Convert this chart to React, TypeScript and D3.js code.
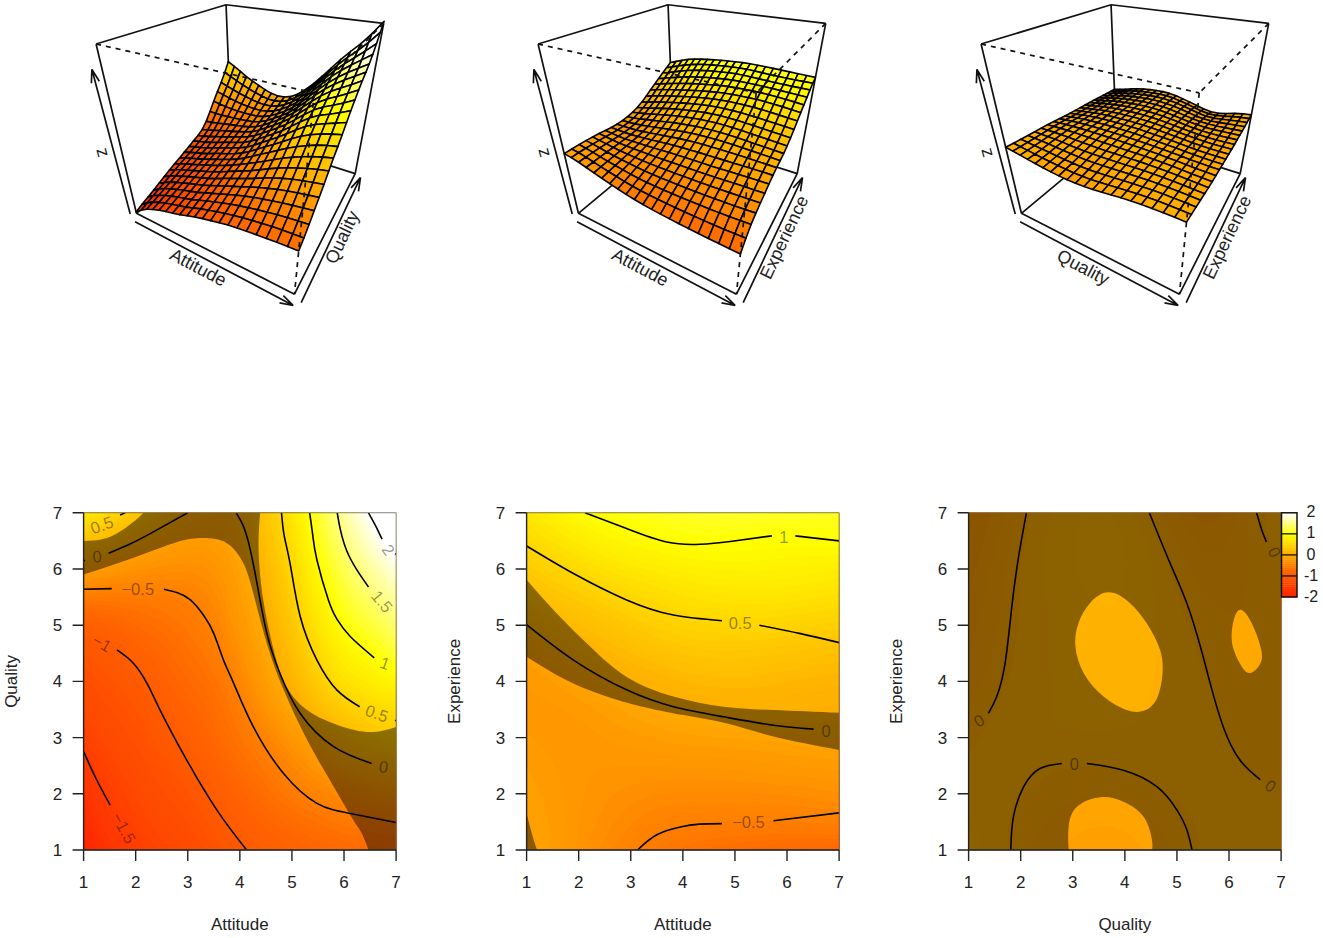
import React, { useMemo } from "react";
import * as d3 from "d3";

type Pt = number[];
// ---------- value grids: rows run from y=7 down to y=1, columns from x=1 to x=7, both in steps of 0.5
const attitudeQualityZ = [
  [0.75, 0.55, 0.32, 0.17, 0.0, -0.06, 0.02, 0.3, 0.7, 1.18, 1.65, 2.0, 2.55],
  [0.25, 0.12, 0.0, -0.1, -0.18, -0.17, -0.05, 0.25, 0.6, 1.07, 1.5, 1.8, 2.2],
  [-0.1, -0.2, -0.29, -0.33, -0.34, -0.3, -0.1, 0.13, 0.52, 0.95, 1.33, 1.62, 1.85],
  [-0.55, -0.57, -0.55, -0.52, -0.5, -0.4, -0.15, 0.07, 0.42, 0.82, 1.18, 1.42, 1.65],
  [-0.97, -0.87, -0.75, -0.68, -0.58, -0.47, -0.22, 0.02, 0.32, 0.7, 1.03, 1.2, 1.45],
  [-1.09, -1.03, -0.9, -0.79, -0.66, -0.56, -0.3, -0.06, 0.2, 0.56, 0.86, 0.98, 1.2],
  [-1.21, -1.11, -1.03, -0.88, -0.75, -0.65, -0.42, -0.15, 0.09, 0.41, 0.67, 0.78, 0.92],
  [-1.33, -1.2, -1.11, -0.97, -0.84, -0.72, -0.54, -0.26, -0.05, 0.2, 0.38, 0.55, 0.6],
  [-1.44, -1.29, -1.18, -1.05, -0.93, -0.78, -0.6, -0.45, -0.25, -0.04, 0.12, 0.27, 0.38],
  [-1.57, -1.38, -1.26, -1.13, -1.02, -0.88, -0.7, -0.58, -0.4, -0.23, -0.1, -0.02, 0.04],
  [-1.7, -1.47, -1.34, -1.21, -1.12, -0.97, -0.83, -0.68, -0.54, -0.45, -0.36, -0.28, -0.2],
  [-1.82, -1.56, -1.42, -1.29, -1.21, -1.06, -0.94, -0.82, -0.73, -0.65, -0.57, -0.53, -0.5],
  [-1.95, -1.66, -1.5, -1.37, -1.3, -1.14, -1.03, -0.94, -0.85, -0.8, -0.76, -0.72, -0.7],
];
const attitudeExperienceZ = [
  [0.72, 0.85, 0.97, 1.03, 1.08, 1.12, 1.15, 1.17, 1.17, 1.16, 1.15, 1.14, 1.13],
  [0.55, 0.65, 0.78, 0.88, 0.94, 0.98, 1.01, 1.03, 1.0, 0.98, 0.97, 0.98, 1.0],
  [0.37, 0.47, 0.56, 0.65, 0.72, 0.77, 0.82, 0.85, 0.86, 0.87, 0.85, 0.83, 0.8],
  [0.2, 0.3, 0.37, 0.45, 0.52, 0.58, 0.64, 0.68, 0.7, 0.71, 0.7, 0.67, 0.63],
  [0.0, 0.1, 0.2, 0.28, 0.35, 0.42, 0.47, 0.5, 0.5, 0.5, 0.47, 0.44, 0.42],
  [-0.13, -0.05, 0.03, 0.13, 0.2, 0.26, 0.3, 0.33, 0.33, 0.31, 0.29, 0.27, 0.24],
  [-0.2, -0.17, -0.08, -0.03, 0.05, 0.1, 0.15, 0.17, 0.18, 0.17, 0.14, 0.12, 0.1],
  [-0.22, -0.22, -0.2, -0.14, -0.09, -0.03, 0.02, 0.05, 0.06, 0.07, 0.06, 0.05, 0.04],
  [-0.2, -0.22, -0.23, -0.2, -0.17, -0.14, -0.12, -0.11, -0.1, -0.09, -0.07, -0.05, -0.04],
  [-0.15, -0.2, -0.24, -0.25, -0.25, -0.25, -0.24, -0.24, -0.23, -0.22, -0.2, -0.19, -0.18],
  [-0.12, -0.17, -0.24, -0.29, -0.32, -0.35, -0.36, -0.36, -0.36, -0.35, -0.34, -0.33, -0.3],
  [-0.1, -0.15, -0.25, -0.32, -0.39, -0.46, -0.47, -0.49, -0.49, -0.49, -0.49, -0.47, -0.44],
  [-0.1, -0.15, -0.27, -0.37, -0.47, -0.56, -0.62, -0.67, -0.7, -0.73, -0.75, -0.77, -0.78],
];
const qualityExperienceZ = [
  [-0.22, -0.14, -0.03, 0.05, 0.09, 0.12, 0.08, -0.01, -0.1, -0.2, -0.14, -0.01, 0.03],
  [-0.2, -0.11, -0.01, 0.06, 0.1, 0.13, 0.11, 0.05, -0.04, -0.13, -0.1, -0.02, 0.02],
  [-0.17, -0.09, 0.01, 0.06, 0.1, 0.12, 0.11, 0.06, -0.02, -0.08, -0.08, -0.04, -0.01],
  [-0.14, -0.07, 0.01, 0.05, 0.09, 0.11, 0.1, 0.06, 0.0, -0.05, -0.06, -0.04, -0.02],
  [-0.12, -0.06, 0.01, 0.05, 0.08, 0.09, 0.09, 0.06, 0.02, -0.02, -0.05, -0.05, -0.03],
  [-0.1, -0.05, 0.02, 0.05, 0.07, 0.08, 0.08, 0.06, 0.03, -0.01, -0.04, -0.05, -0.04],
  [-0.08, -0.03, 0.03, 0.05, 0.06, 0.07, 0.07, 0.05, 0.03, 0.01, -0.03, -0.04, -0.04],
  [-0.05, 0.01, 0.03, 0.05, 0.06, 0.06, 0.06, 0.05, 0.03, 0.02, -0.01, -0.03, -0.03],
  [-0.01, 0.02, 0.04, 0.05, 0.05, 0.05, 0.05, 0.04, 0.04, 0.02, 0.0, -0.03, -0.04],
  [0.01, 0.02, 0.03, 0.01, 0.0, 0.0, 0.01, 0.02, 0.03, 0.03, 0.02, -0.01, -0.03],
  [0.03, 0.02, 0.005, -0.02, -0.04, -0.05, -0.03, -0.01, 0.01, 0.02, 0.03, 0.02, 0.0],
  [0.05, 0.02, -0.02, -0.05, -0.08, -0.1, -0.09, -0.06, -0.02, 0.01, 0.03, 0.03, 0.02],
  [0.08, 0.03, -0.03, -0.08, -0.12, -0.14, -0.13, -0.09, -0.04, 0.01, 0.03, 0.04, 0.04],
];

// ---------- contour lines (gaps are where labels sit)
const attitudeQualityLines: Pt[][] = [
  [[6.47, 7], [6.6, 6.78], [6.73, 6.53]],
  [[6.98, 6.27], [7, 6.26]],
  [[5.87, 7], [5.93, 6.7], [6.05, 6.33], [6.25, 5.98], [6.47, 5.68]],
  [[5.34, 7], [5.4, 6.6], [5.48, 6.16], [5.7, 5.45], [5.87, 5.1], [6.12, 4.8], [6.58, 4.42]],
  [[4.8, 7], [4.85, 6.6], [4.97, 6.07], [5.16, 5.15], [5.48, 4.38], [5.86, 3.85], [6.3, 3.55]],
  [[6.98, 3.31], [7, 3.3]],
  [[3.93, 7], [4.05, 6.8], [4.17, 6.46], [4.33, 5.74], [4.52, 4.85], [4.77, 4.14], [5.16, 3.43], [5.8, 2.84], [6.53, 2.54]],
  [[1.48, 6.28], [1.9, 6.45], [2.28, 6.63], [3.0, 7]],
  [[1, 6.15], [1.03, 6.15]],
  [[1.7, 6.96], [1.8, 7]],
  [[1, 5.64], [1.54, 5.65]],
  [[2.54, 5.64], [2.79, 5.58], [3.05, 5.45], [3.3, 5.18], [3.5, 4.85], [3.69, 4.37], [3.88, 3.97], [4.26, 3.19], [4.84, 2.36], [5.48, 1.83], [6.12, 1.65], [7, 1.49]],
  [[1.64, 4.56], [1.96, 4.32], [2.22, 3.96], [2.41, 3.6], [2.6, 3.25], [2.98, 2.6], [3.56, 1.71], [4.13, 1]],
  [[1, 2.75], [1.25, 2.25], [1.51, 1.8]],
];
const attitudeExperienceLines: Pt[][] = [
  [[2.12, 7], [2.92, 6.72], [3.69, 6.48], [4.33, 6.44], [4.91, 6.49], [5.71, 6.59]],
  [[6.16, 6.59], [7, 6.5]],
  [[1, 6.41], [1.9, 5.92], [2.92, 5.45], [3.82, 5.18], [4.75, 5.08]],
  [[5.47, 5.0], [6.26, 4.85], [7, 4.69]],
  [[1, 5.01], [1.9, 4.38], [2.92, 3.85], [3.82, 3.55], [4.78, 3.37], [5.74, 3.22], [6.51, 3.15]],
  [[3.13, 1], [3.5, 1.27], [3.95, 1.41], [4.32, 1.46], [4.75, 1.47]],
  [[5.74, 1.52], [7, 1.66]],
];
const qualityExperienceLines: Pt[][] = [
  [[2.11, 7], [1.96, 6.22], [1.83, 5.33], [1.7, 4.32], [1.54, 3.73], [1.38, 3.43]],
  [[4.47, 7], [4.87, 6.1], [5.19, 5.39], [5.45, 4.62], [5.64, 3.96], [5.89, 3.19], [6.21, 2.6], [6.6, 2.25]],
  [[1.81, 1], [1.86, 1.59], [2.06, 2.13], [2.37, 2.45], [2.79, 2.54]],
  [[3.27, 2.54], [3.97, 2.42], [4.61, 2.13], [5.0, 1.71], [5.19, 1.36], [5.29, 1]],
  [[6.53, 7], [6.63, 6.69], [6.72, 6.48]],
];

// ---------- contour labels: text, x, y, angle
const attitudeQualityLabels: [string, number, number, number][] = [
  ["0.5", 1.35, 6.78, -20], ["0", 1.26, 6.22, -5], ["\u22120.5", 2.04, 5.64, 0], ["\u22121", 1.35, 4.68, 30],
  ["\u22121.5", 1.77, 1.39, 62], ["2", 6.85, 6.34, 55], ["1.5", 6.73, 5.42, 50], ["1", 6.79, 4.32, 20],
  ["0.5", 6.63, 3.43, 20], ["0", 6.76, 2.48, 8],
];
const attitudeExperienceLabels: [string, number, number, number][] = [
  ["1", 5.94, 6.57, 0], ["0.5", 5.1, 5.03, 0], ["0", 6.75, 3.12, 0], ["\u22120.5", 5.26, 1.5, 0],
];
const qualityExperienceLabels: [string, number, number, number][] = [
  ["0", 1.2, 3.3, -30], ["0", 3.03, 2.53, 0], ["0", 6.87, 6.3, 65], ["0", 6.8, 2.14, 35],
];

// ---------- regions shaded dark: rings made of edges
const attitudeQualityShade: Pt[][][] = [[
  [[1, 6.5], [1.5, 6.57], [1.96, 6.84], [2.15, 7]],
  [[2.15, 7], [4.39, 7]],
  [[4.39, 7], [4.36, 6.34], [4.45, 5.45], [4.65, 4.56], [4.9, 3.9], [5.29, 3.49], [5.8, 3.25], [6.44, 3.1], [7, 3.19]],
  [[7, 3.19], [7, 1]],
  [[7, 1], [6.47, 1]],
  [[6.47, 1], [6.34, 1.3], [6.18, 1.53], [5.8, 2.13], [5.29, 2.96], [4.84, 3.85], [4.52, 4.67], [4.26, 5.56], [4.07, 6.1], [3.75, 6.46], [3.3, 6.55], [2.8, 6.48], [1.96, 6.2], [1, 5.9]],
  [[1, 5.9], [1, 6.5]],
]];
const attitudeExperienceShade: Pt[][][] = [
  [
    [[1, 5.81], [1.58, 5.21], [2.22, 4.62], [2.92, 4.08], [3.82, 3.73], [4.78, 3.55], [5.74, 3.49], [7, 3.44]],
    [[7, 3.44], [7, 2.78]],
    [[7, 2.78], [5.74, 3.02], [4.85, 3.25], [4.01, 3.4], [3.18, 3.56], [2.54, 3.73], [1.77, 4.02], [1, 4.44]],
    [[1, 4.44], [1, 5.81]],
  ],
  [[[1, 1.65], [1.1, 1.3], [1.2, 1]], [[1.2, 1], [1, 1]], [[1, 1], [1, 1.65]]],
];
const qualityExperienceShade: Pt[][][] = [
  [[[1, 1], [7, 1]], [[7, 1], [7, 7]], [[7, 7], [1, 7]], [[1, 7], [1, 1]]],
  [[[3.69, 5.6], [4.1, 5.39], [4.42, 5.03], [4.68, 4.56], [4.72, 4.14], [4.61, 3.67], [4.36, 3.48], [4.04, 3.49], [3.59, 3.73], [3.21, 4.14], [3.05, 4.62], [3.11, 5.03], [3.33, 5.39], [3.69, 5.6]]],
  [[[6.25, 5.27], [6.44, 5.03], [6.62, 4.56], [6.6, 4.32], [6.41, 4.14], [6.25, 4.26], [6.09, 4.56], [6.05, 4.85], [6.12, 5.18], [6.25, 5.27]]],
  [[[2.92, 1], [2.92, 1.41], [3.08, 1.77], [3.53, 1.94], [3.97, 1.86], [4.36, 1.59], [4.52, 1.18], [4.52, 1]], [[4.52, 1], [2.92, 1]]],
];

const axisTicks = [1, 2, 3, 4, 5, 6, 7];
const legendTicks = [2, 1, 0, -1, -2];
const zLimits = [-2, 2.5];
const legendLevels = d3.range(0, 40).map((i) => -2 + i * 0.1);
const FONT = "'Liberation Sans', Arial, sans-serif";

// ---------- heat palette
const greenRamp = d3.scaleLinear().domain([-2, -0.75, 0, 1]).range([0.13, 0.41, 0.67, 1]).clamp(true);
function heat(z: number) {
  const g = greenRamp(z);
  const b = Math.max(0, Math.min(1, z - 1));
  return d3.rgb(255, Math.round(g * 255), Math.round(b * 255)).formatHex();
}

// ---------- smooth lookup in a value grid (uniform cubic B-spline)
function bs(a: number, b: number, c: number, d: number, t: number) {
  const t2 = t * t, t3 = t2 * t;
  return ((1 - 3 * t + 3 * t2 - t3) * a + (4 - 6 * t2 + 3 * t3) * b + (1 + 3 * t + 3 * t2 - 3 * t3) * c + t3 * d) / 6;
}
function lookup(g: number[][], x: number, y: number) {
  const fx = (x - 1) / 0.5;
  const fy = (7 - y) / 0.5;
  const ix = Math.min(11, Math.floor(fx));
  const iy = Math.min(11, Math.floor(fy));
  const tx = fx - ix;
  const ty = fy - iy;
  const inner = (r: number, c: number) => g[Math.max(0, Math.min(12, r))][c < 0 ? 0 : c > 12 ? 12 : c];
  const rowAt = (r: number, c: number) => {
    if (c < 0) return 2 * inner(r, 0) - inner(r, 1);
    if (c > 12) return 2 * inner(r, 12) - inner(r, 11);
    return inner(r, c);
  };
  const at = (r: number, c: number) => {
    if (r < 0) return 2 * rowAt(0, c) - rowAt(1, c);
    if (r > 12) return 2 * rowAt(12, c) - rowAt(11, c);
    return rowAt(r, c);
  };
  const rows = [-1, 0, 1, 2].map((dr) =>
    bs(at(iy + dr, ix - 1), at(iy + dr, ix), at(iy + dr, ix + 1), at(iy + dr, ix + 2), tx));
  return bs(rows[0], rows[1], rows[2], rows[3], ty);
}

// ---------- camera of the 3D box
const THETA = (30 * Math.PI) / 180;
const PHI = (30 * Math.PI) / 180;
const EYE = Math.sqrt(3) + 2;
const K = 337;
const BOX_X = 254;
const BOX_Y = 123;
const unitXY = d3.scaleLinear().domain([1, 7]).range([-1, 1]);
const unitZ = d3.scaleLinear().domain(zLimits).range([-1, 1]);

function project(u: number, v: number, w: number) {
  const c = Math.cos(THETA), s = Math.sin(THETA), cp = Math.cos(PHI), sp = Math.sin(PHI);
  const X = c * u + s * v;
  const Y = -s * u + c * v;
  const V = w * cp + Y * sp;
  const A = Y * cp - w * sp;
  const d = A + EYE;
  return { x: BOX_X + (K * X) / d, y: BOX_Y - (K * V) / d, depth: d };
}

function Arrow({ a, b }: { a: number[]; b: number[] }) {
  const p = project(a[0], a[1], a[2]);
  const q = project(b[0], b[1], b[2]);
  const ang = Math.atan2(q.y - p.y, q.x - p.x);
  const h = 14;
  const head = (sgn: number) => {
    const t = ang + Math.PI + (sgn * 17 * Math.PI) / 180;
    return `M${q.x},${q.y}L${q.x + h * Math.cos(t)},${q.y + h * Math.sin(t)}`;
  };
  return (
    <path d={`M${p.x},${p.y}L${q.x},${q.y}${head(1)}${head(-1)}`} fill="none" stroke="#111" strokeWidth={1.7} />
  );
}

function Persp({ dx, grid, xLabel, yLabel }: { dx: number; grid: number[][]; xLabel: string; yLabel: string }) {
  const facets = useMemo(() => {
    const xs = d3.range(0, 21).map((i) => 1 + i * 0.3);
    const out: { d: string; fill: string; depth: number }[] = [];
    for (let i = 0; i < 20; i++) {
      for (let j = 0; j < 20; j++) {
        const corners = [[xs[i], xs[j]], [xs[i + 1], xs[j]], [xs[i + 1], xs[j + 1]], [xs[i], xs[j + 1]]];
        const zs = corners.map(([x, y]) => lookup(grid, x, y));
        const ps = corners.map(([x, y], k) => project(unitXY(x), unitXY(y), unitZ(zs[k])));
        out.push({
          d: "M" + ps.map((p) => `${p.x.toFixed(2)},${p.y.toFixed(2)}`).join("L") + "Z",
          fill: heat(d3.mean(zs) as number),
          depth: d3.mean(ps, (p) => p.depth) as number,
        });
      }
    }
    return out.sort((a, b) => b.depth - a.depth);
  }, [grid]);

  const edge = (a: number[], b: number[]) => {
    const p = project(a[0], a[1], a[2]);
    const q = project(b[0], b[1], b[2]);
    return `M${p.x},${p.y}L${q.x},${q.y}`;
  };
  const LT = [-1, -1, 1], LB = [-1, -1, -1], FT = [1, -1, 1], FB = [1, -1, -1];
  const RT = [1, 1, 1], RB = [1, 1, -1], BT = [-1, 1, 1], BB = [-1, 1, -1];
  const solid = [[BT, LT], [BT, RT], [LT, LB], [RT, RB], [BT, BB], [LB, BB], [RB, BB], [LB, FB], [RB, FB]];
  const dashed = [[LT, FT], [RT, FT], [FT, FB]];

  const xA = [-0.93, -1.09, -1.02], xB = [1.03, -1.09, -1.02];
  const yA = [1.08, -1.03, -1.02], yB = [1.08, 0.98, -1.02];
  const zA = [-1.12, -1, -1.07], zB = [-1.15, -1, 0.74];

  const axisText = (txt: string, at: number[], a: number[], b: number[]) => {
    const p = project(at[0], at[1], at[2]);
    const s = project(a[0], a[1], a[2]);
    const e = project(b[0], b[1], b[2]);
    const ang = (Math.atan2(e.y - s.y, e.x - s.x) * 180) / Math.PI;
    return (
      <text transform={`translate(${p.x},${p.y}) rotate(${ang})`} textAnchor="middle" dy="0.35em"
        fontFamily={FONT} fontSize={18} fill="#222">{txt}</text>
    );
  };

  return (
    <g transform={`translate(${dx},0)`}>
      <path d={solid.map(([a, b]) => edge(a, b)).join("")} fill="none" stroke="#111" strokeWidth={1.7} />
      <g stroke="#000" strokeWidth={1.6} strokeLinejoin="round">
        {facets.map((f, i) => <path key={i} d={f.d} fill={f.fill} />)}
      </g>
      <path d={dashed.map(([a, b]) => edge(a, b)).join("")} fill="none" stroke="#111" strokeWidth={1.7} strokeDasharray="5 5" />
      <Arrow a={xA} b={xB} />
      <Arrow a={yA} b={yB} />
      <Arrow a={zA} b={zB} />
      {axisText(xLabel, [0.06, -1.2, -1.02], xA, xB)}
      {axisText(yLabel, [1.17, -0.13, -1.02], yA, yB)}
      {axisText("z", [-1.32, -1, -0.25], zB, zA)}
    </g>
  );
}

const curveLine = d3.line<Pt>().curve(d3.curveNatural);
const closedLine = d3.line<Pt>().curve(d3.curveBasisClosed);

function ringPath(ring: Pt[][], sx: (v: number) => number, sy: (v: number) => number) {
  return ring.map((e, i) => {
    const pts = e.map((p) => [sx(p[0]), sy(p[1])]);
    const first = e[0], last = e[e.length - 1];
    if (e.length > 3 && first[0] === last[0] && first[1] === last[1]) {
      const open = pts.slice(0, -1);
      const m = open.length;
      const sharpened = open.map((p, k) => {
        const a = open[(k + m - 1) % m], b = open[(k + 1) % m];
        return [p[0] - ((a[0] + b[0]) / 2 - p[0]) / 3, p[1] - ((a[1] + b[1]) / 2 - p[1]) / 3];
      });
      return closedLine(sharpened) as string;
    }
    const d = curveLine(pts) as string;
    return i === 0 ? d : "L" + d.slice(1);
  }).join("") + "Z";
}

function Contour({ id, left, grid, lines, labels, shade, xLabel, yLabel }: {
  id: string; left: number; grid: number[][]; lines: Pt[][];
  labels: [string, number, number, number][]; shade: Pt[][][]; xLabel: string; yLabel: string;
}) {
  const WIDTH = 312.5;
  const sx = d3.scaleLinear().domain([1, 7]).range([left, left + WIDTH]);
  const sy = d3.scaleLinear().domain([1, 7]).range([850, 512.8]);

  const layers = useMemo(() => {
    const n = 181;
    const values = new Array(n * n);
    for (let j = 0; j < n; j++) {
      for (let i = 0; i < n; i++) {
        values[i + j * n] = lookup(grid, 1 + (i / (n - 1)) * 6, 1 + (j / (n - 1)) * 6);
      }
    }
    const th = d3.range(-50, 61).map((k) => k * 0.05);
    const cs = d3.contours().size([n, n]).thresholds(th)(values);
    const path = d3.geoPath(d3.geoTransform({
      point(x: number, y: number) {
        (this as any).stream.point(sx(1 + ((x - 0.5) / (n - 1)) * 6), sy(1 + ((y - 0.5) / (n - 1)) * 6));
      },
    }));
    return cs.filter((c) => c.coordinates.length > 0)
      .map((c) => ({ d: path(c as any) as string, fill: heat(c.value + 0.025) }));
  }, [grid, left]);

  const y0 = sy(1), xL = sx(1), xR = sx(7), yT = sy(7);
  return (
    <g>
      <clipPath id={id}><rect x={xL} y={yT} width={xR - xL} height={y0 - yT} /></clipPath>
      <g clipPath={`url(#${id})`}>
        <rect x={xL} y={yT} width={xR - xL} height={y0 - yT} fill={heat(-2)} />
        {layers.map((l, i) => <path key={i} d={l.d} fill={l.fill} />)}
        <path d={shade.map((r) => ringPath(r, sx, sy)).join("")} fill="#000" fillOpacity={0.45} fillRule="evenodd" />
        {lines.map((l, i) => (
          <path key={i} d={curveLine(l.map((p) => [sx(p[0]), sy(p[1])])) as string} fill="none" stroke="#000" strokeWidth={1.6} />
        ))}
        {labels.map(([t, x, y, a], i) => (
          <text key={i} transform={`translate(${sx(x)},${sy(y)}) rotate(${a})`} textAnchor="middle" dy="0.35em"
            fontFamily={FONT} fontSize={16.5} fill="#000" fillOpacity={0.42}>{t}</text>
        ))}
      </g>
      <rect x={xL} y={yT} width={xR - xL} height={y0 - yT} fill="none" stroke="#666" strokeWidth={0.8} />
      <path d={`M${xL},${y0}H${xR}` + axisTicks.map((t) => `M${sx(t)},${y0}V${y0 + 11}`).join("")} stroke="#222" strokeWidth={1.4} fill="none" />
      <path d={`M${xL},${y0}V${yT}` + axisTicks.map((t) => `M${xL},${sy(t)}H${xL - 11}`).join("")} stroke="#222" strokeWidth={1.4} fill="none" />
      {axisTicks.map((t) => (
        <text key={"x" + t} x={sx(t)} y={882} dy="0.35em" textAnchor="middle" fontFamily={FONT} fontSize={17} fill="#222">{t}</text>
      ))}
      {axisTicks.map((t) => (
        <text key={"y" + t} x={xL - 26} y={sy(t)} dy="0.35em" textAnchor="middle" fontFamily={FONT} fontSize={17} fill="#222">{t}</text>
      ))}
      <text x={(xL + xR) / 2} y={924} dy="0.35em" textAnchor="middle" fontFamily={FONT} fontSize={17} fill="#222">{xLabel}</text>
      <text transform={`translate(${xL - 73},${(y0 + yT) / 2}) rotate(-90)`} dy="0.35em" textAnchor="middle" fontFamily={FONT} fontSize={17} fill="#222">{yLabel}</text>
    </g>
  );
}

function Legend() {
  const sy = d3.scaleLinear().domain([-2, 2]).range([597, 512.8]);
  const x = 1281.5, w = 15.5;
  return (
    <g>
      {legendLevels.map((z) => (
        <rect key={z} x={x} y={sy(z + 0.1)} width={w} height={sy(z) - sy(z + 0.1) + 0.4} fill={heat(z + 0.05)} />
      ))}
      <rect x={x} y={sy(2)} width={w} height={sy(-2) - sy(2)} fill="none" stroke="#111" strokeWidth={1.5} />
      {legendTicks.slice(1, 4).map((t) => (
        <line key={t} x1={x} x2={x + w} y1={sy(t)} y2={sy(t)} stroke="#111" strokeWidth={1.3} />
      ))}
      {legendTicks.map((t) => (
        <text key={t} x={1311} y={sy(t) - 1} dy="0.35em" textAnchor="middle" fontFamily={FONT} fontSize={16} fill="#222">{t}</text>
      ))}
    </g>
  );
}

export default function App() {
  return (
    <svg width={1323} height={938} viewBox="0 0 1323 938"
      style={{ position: "absolute", left: 0, top: 0, display: "block", background: "#fff" }}>
      <Persp dx={0} grid={attitudeQualityZ} xLabel="Attitude" yLabel="Quality" />
      <Persp dx={442} grid={attitudeExperienceZ} xLabel="Attitude" yLabel="Experience" />
      <Persp dx={885} grid={qualityExperienceZ} xLabel="Quality" yLabel="Experience" />
      <Contour id="c1" left={83.6} grid={attitudeQualityZ} lines={attitudeQualityLines} labels={attitudeQualityLabels}
        shade={attitudeQualityShade} xLabel="Attitude" yLabel="Quality" />
      <Contour id="c2" left={526.6} grid={attitudeExperienceZ} lines={attitudeExperienceLines} labels={attitudeExperienceLabels}
        shade={attitudeExperienceShade} xLabel="Attitude" yLabel="Experience" />
      <Contour id="c3" left={968.6} grid={qualityExperienceZ} lines={qualityExperienceLines} labels={qualityExperienceLabels}
        shade={qualityExperienceShade} xLabel="Quality" yLabel="Experience" />
      <Legend />
    </svg>
  );
}
